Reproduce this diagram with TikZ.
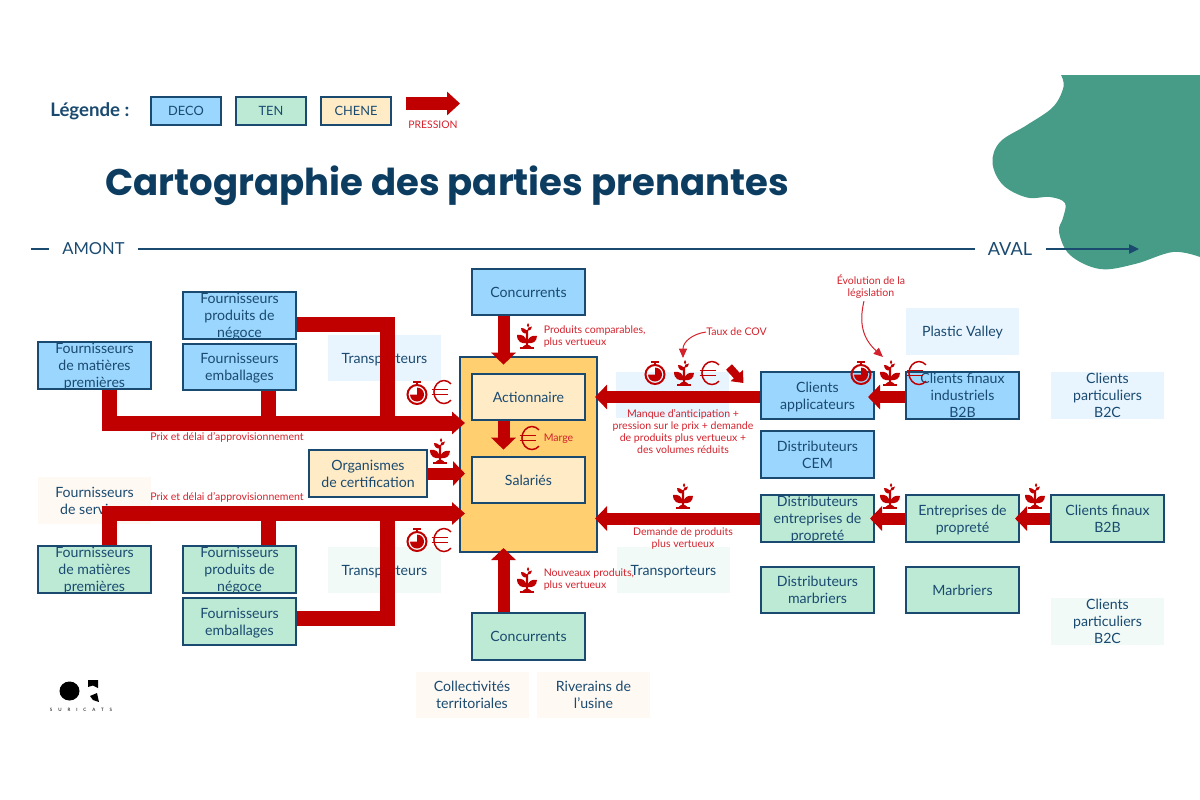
\documentclass[tikz,border=0pt]{standalone}
\usepackage{fontspec}
\setmainfont{Lato}
\newfontfamily\titrefont{Poppins}
\usetikzlibrary{arrows.meta, positioning}
\definecolor{encre}{HTML}{1A4A70}
\definecolor{encreTitre}{HTML}{0C3C60}
\definecolor{bleuDeco}{HTML}{9BD6FE}
\definecolor{vertTen}{HTML}{BCEAD5}
\definecolor{beigeChene}{HTML}{FFEBC6}
\definecolor{orangeCentre}{HTML}{FFCF70}
\definecolor{paleBleu}{HTML}{E8F5FF}
\definecolor{paleVert}{HTML}{F1FAF7}
\definecolor{paleBeige}{HTML}{FFF9F3}
\definecolor{rouge}{HTML}{C00000}
\definecolor{rougeTexte}{HTML}{D3222C}
\definecolor{sarcelle}{HTML}{469C87}
\tikzset{
	x=0.75pt, y=-0.75pt, % Une unite vaut un pixel de la reference
	>=stealth,
	boite/.style={minimum width=84.75pt, minimum height=35pt, inner sep=0pt, align=center, text=encre,
		font=\fontsize{10.6}{12.6}\selectfont}, % Taille commune des cases
	bas/.style={text depth=#1}, % Descend un peu le texte dans sa case
	deco/.style={boite, draw=encre, line width=1.5pt, fill=bleuDeco},
	ten/.style={boite, draw=encre, line width=1.5pt, fill=vertTen},
	chene/.style={boite, draw=encre, line width=1.5pt, fill=beigeChene},
	horsBleu/.style={boite, fill=paleBleu},
	horsVert/.style={boite, fill=paleVert},
	horsBeige/.style={boite, fill=paleBeige},
	legende/.style={minimum width=52pt, minimum height=21pt, font=\fontsize{9.6}{12}\selectfont},
	pression/.style={color=rouge, line width=9pt, -{Triangle[length=9pt,width=18pt]}},
	pressionLarge/.style={color=rouge, line width=11.25pt, -{Triangle[length=9.75pt,width=16.5pt]}},
	troncon/.style={color=rouge, line width=11.25pt},
	note/.style={inner sep=0pt, align=center, text=rougeTexte, font=\fontsize{7.9}{9}\selectfont},
	renvoi/.style={color=rougeTexte, line width=0.75pt, -{Triangle[length=7pt,width=6pt]}},
	axe/.style={color=encre, line width=1pt},
	plante/.pic={
		\fill[rouge] (-7,10.5) -- (7,10.5) -- (7,12.5) -- (-7,12.5) -- cycle;
		\fill[rouge] (-1.2,11) .. controls (-1.2,6) and (-1.2,0) .. (-1,-6) -- (1.2,-6) .. controls (1.2,0) and (1.2,6) .. (1.2,11) -- cycle;
		\fill[rouge] (-4.5,11) .. controls (-2,8) and (2,8) .. (4.5,11) -- cycle;
		\fill[rouge] (-0.5,7) .. controls (-5,8) and (-10,6) .. (-10,-1) .. controls (-5,-2) and (-0.5,0) .. (-0.5,7) -- cycle;
		\fill[rouge] (0.5,7) .. controls (5,8) and (10,6) .. (10,0) .. controls (5,-1) and (0.5,1) .. (0.5,7) -- cycle;
		\fill[rouge] (0,-2.5) .. controls (-3,-2) and (-6,-4) .. (-6,-8) .. controls (-2,-8) and (0,-6) .. (0,-2.5) -- cycle;
		\fill[rouge] (0,-5) .. controls (3,-5) and (5,-7) .. (5,-9.5) .. controls (2,-9.5) and (0,-8) .. (0,-5) -- cycle;
		\fill[rouge] (1,-8.5) .. controls (-0.5,-10) and (-0.5,-11.5) .. (1,-13) .. controls (2.5,-11.5) and (2.5,-10) .. (1,-8.5) -- cycle;
	},
	chrono/.pic={
		\draw[rouge, line width=1.5pt] (0,1.5) circle[radius=9.5];
		\fill[rouge] (0,1.5) -- (0,-5.5) arc[start angle=-90, end angle=180, radius=7] -- cycle;
		\draw[rouge, line width=1.5pt] (-4,-11.5) -- (4,-11.5) (0,-11.5) -- (0,-8);
	},
	euro/.pic={
		\draw[rouge, line width=1.1pt] (9,-8.1) arc[start angle=-45, end angle=-315, x radius=10, y radius=11.5];
		\draw[rouge, line width=1.1pt] (-10.5,-2.5) -- (6,-2.5) (-10.5,2.5) -- (6,2.5);
	}
}

\begin{document}
\begin{tikzpicture}
			\useasboundingbox (0,0) rectangle (1200,800);
			% tache du coin
			\fill[sarcelle] plot[smooth, tension=0.6] coordinates {(1061,75) (1063.5,87) (1053,107) (1027,125) (1000,142) (992.5,163) (1003,185) (1027,197.5) (1050,197) (1065,203) (1063,218) (1059,232) (1070,255) (1100,269) (1135,264) (1173,252) (1200,257)} -- (1200,75) -- cycle;

			% entete
			\node[anchor=west, inner sep=0pt, text=encre, font=\fontsize{14}{16}\selectfont\bfseries] (titreLegende) at (50,111) {Légende :};
			\node[deco, legende] (legDeco) at (186,110.5) {DECO};
			\node[ten, legende, right=10.25pt of legDeco] (legTen) {TEN};
			\node[chene, legende, right=10.25pt of legTen] (legChene) {CHENE};
			\node[note, font=\fontsize{7.8}{9}\selectfont] (legPression) at (433,125) {PRESSION};
			\coordinate (legDebut) at (406,103.5);
			\coordinate (legFin) at (460,103.5);
			\draw[color=rouge, line width=9.75pt, -{Triangle[length=9.75pt,width=17.25pt]}] (legDebut) -- (legFin);
			\node[anchor=west, inner sep=0pt, text=encreTitre, font=\titrefont\fontsize{27.8}{32}\selectfont\bfseries] (titre) at (105,186) {Cartographie des parties prenantes};

			% axe amont aval
			\coordinate (axeDebut) at (31,249);
			\coordinate (axeFin) at (1139,249);
			\node[inner sep=0pt, text=encre, font=\fontsize{12.4}{14}\selectfont] (amont) at (93.5,249) {AMONT};
			\node[inner sep=0pt, text=encre, font=\fontsize{13.6}{14}\selectfont] (aval) at (1010,249) {AVAL};
			\draw[axe] (axeDebut) -- ([xshift=-9.75pt]amont.west);
			\draw[axe] ([xshift=9.75pt]amont.east) -- ([xshift=-9.75pt]aval.west);
			\draw[axe, -{Triangle[length=7.5pt,width=7pt]}] ([xshift=10.5pt]aval.east) -- (axeFin);

			% cases hors pression
			\node[horsBleu, bas=-0.7pt] (transpHaut) at (384.5,358) {Transporteurs};
			\node[horsBleu] (transpDroit) at (672.5,395) {};
			\node[horsBleu, bas=-0.7pt] (plastic) at (962.5,331.5) {Plastic Valley};
			\node[horsBleu, bas=-2.25pt] (partHaut) at (1107.5,395.5) {Clients\\particuliers\\B2C};
			\node[horsBeige, bas=-1.5pt] (services) at (94.5,500.5) {Fournisseurs\\de services};
			\node[horsVert, bas=-0.7pt] (transpBas) at (384.5,570) {Transporteurs};
			\node[horsVert, bas=-0.7pt] (transpMilieu) at (673.5,570) {Transporteurs};
			\node[horsVert, bas=-1.5pt] (partBas) at (1107.5,621.5) {Clients\\particuliers\\B2C};
			\node[horsBeige] (collect) at (472,695) {Collectivités\\territoriales};
			\node[horsBeige] (riverains) at (593.5,695) {Riverains de\\l'usine};

			% centre
			\node[chene, fill=orangeCentre, minimum width=102.75pt, minimum height=146.25pt] (centre) at (528.5,454.5) {};
			\node[chene] (action) at (528.5,397) {Actionnaire};
			\node[chene] (salaries) at (528.5,480) {Salariés};
			\node[chene, minimum width=88.5pt] (organismes) at (368,473.5) {Organismes\\de certification};

			% amont
			\node[deco, bas=-3.75pt] (negHaut) at (239.5,315.5) {Fournisseurs\\produits de\\négoce};
			\node[deco, bas=-0.7pt] (embHaut) at (239.5,367) {Fournisseurs\\emballages};
			\node[deco, bas=-0.7pt] (matHaut) at (94.5,365.5) {Fournisseurs\\de matières\\premières};
			\node[deco] (concHaut) at (528.5,292) {Concurrents};
			\node[ten, bas=-0.7pt] (matBas) at (94.5,569.5) {Fournisseurs\\de matières\\premières};
			\node[ten, bas=-3.75pt] (negBas) at (239.5,569.5) {Fournisseurs\\produits de\\négoce};
			\node[ten, bas=-0.7pt] (embBas) at (239.5,621.5) {Fournisseurs\\emballages};
			\node[ten] (concBas) at (528.5,636.5) {Concurrents};

			% aval
			\node[deco, bas=-2.2pt] (applic) at (817.5,395.5) {Clients\\applicateurs};
			\node[deco, bas=-1.5pt] (cem) at (817.5,454.5) {Distributeurs\\CEM};
			\node[deco, bas=-2.25pt] (finauxInd) at (962.5,395.5) {Clients finaux\\industriels\\B2B};
			\node[ten, bas=-0.7pt] (distProp) at (817.5,518.5) {Distributeurs\\entreprises de\\propreté};
			\node[ten] (distMarb) at (817.5,590) {Distributeurs\\marbriers};
			\node[ten, bas=0pt] (entProp) at (962.5,518.5) {Entreprises de\\propreté};
			\node[ten] (marbriers) at (962.5,590) {Marbriers};
			\node[ten] (finauxB2B) at (1107.5,518.5) {Clients finaux\\B2B};

			% pressions
			\coordinate (jonctionHaut) at (387.5,423);
			\coordinate (jonctionBas) at (387.5,513.5);
			\draw[troncon] ([shift={(0,8.5)}]negHaut.east) -| (jonctionHaut);
			\draw[troncon] ([shift={(28.5,0)}]embHaut.south) -- ([shift={(28.5,0)}]embHaut.south |- jonctionHaut);
			\draw[pressionLarge] ([shift={(14.5,0)}]matHaut.south) |- ([shift={(6,-31.5)}]centre.west);
			\draw[troncon] ([shift={(0,-3)}]embBas.east) -| (jonctionBas);
			\draw[troncon] ([shift={(28.5,0)}]negBas.north) -- ([shift={(28.5,0)}]negBas.north |- jonctionBas);
			\draw[pressionLarge] ([shift={(14.5,0)}]matBas.north) |- ([shift={(6,59)}]centre.west);
			\draw	([shift={(-25,0)}]concHaut.south) edge[pression] ([shift={(-25,-8)}]action.north)
					([shift={(-25,0)}]action.south) edge[pression] ([shift={(-25,-6)}]salaries.north)
					([shift={(-25,0)}]concBas.north) edge[pression] ([shift={(-25,-5)}]centre.south)
					(organismes.east) edge[pression] ([shift={(6,19)}]centre.west)
					([shift={(0,1.5)}]applic.west) edge[pression] ([shift={(-3,-57.5)}]centre.east)
					([shift={(0,1.5)}]finauxInd.west) edge[pression] ([shift={(-7,1.5)}]applic.east)
					(distProp.west) edge[pression] ([shift={(-3,64)}]centre.east)
					(entProp.west) edge[pression] ([shift={(-5,0)}]distProp.east)
					(finauxB2B.west) edge[pression] ([shift={(-5,0)}]entProp.east)
					;
			\coordinate (flecheDebut) at (729,367);
			\coordinate (flecheFin) at (743.5,383);
			\draw[color=rouge, line width=6pt, -{Triangle[length=7.5pt,width=12pt]}] (flecheDebut) -- (flecheFin);

			% textes des pressions
			\node[note] (prixHaut) at (227,437) {Prix et délai d'approvisionnement};
			\node[note] (prixBas) at (227,497) {Prix et délai d'approvisionnement};
			\node[note, align=left, anchor=west] (comparables) at (543.5,337) {Produits comparables,\\plus vertueux};
			\node[note, align=left, anchor=west] (nouveaux) at (543.5,580) {Nouveaux produits,\\plus vertueux};
			\node[note, anchor=west] (marge) at (543.5,439) {Marge};
			\node[note] (manque) at (683,432) {Manque d'anticipation +\\pression sur le prix + demande\\de produits plus vertueux +\\des volumes réduits};
			\node[note] (demande) at (683,539) {Demande de produits\\plus vertueux};
			\node[note, anchor=west] (taux) at (706,332) {Taux de COV};
			\node[note] (legislation) at (871,287) {Évolution de la\\législation};
			\coordinate (tauxFin) at (683,358);
			\coordinate (legisFin) at (883,357);
			\draw[renvoi] (taux.west) .. controls (692,334) and (683,342) .. (tauxFin);
			\draw[renvoi] ([shift={(-7,2)}]legislation.south) .. controls (859,322) and (862,338) .. (legisFin);

			% pictogrammes
			\path	(417,393) pic {chrono} (442,392) pic {euro}
					(417,540) pic {chrono} (442,540) pic {euro}
					(527,336) pic {plante} (530,438) pic {euro}
					(440,451) pic {plante} (527,580) pic {plante}
					(655,373) pic {chrono} (684,373) pic {plante} (710,373) pic {euro}
					(861,373) pic {chrono} (890,373) pic {plante} (917,373) pic {euro}
					(683,496) pic {plante} (890,496) pic {plante} (1035,496) pic {plante}
					;

			% logo
			\fill[black] (69.5,691) ellipse[x radius=10, y radius=9.5];
			\fill[black] (88,680) -- (98,680) -- (98,688) -- (93,685.5) -- (88,687) -- cycle;
			\fill[black] (90,696) -- (97,693) -- (99,702) -- (93,700) -- cycle;
			\node[inner sep=0pt, font=\addfontfeature{LetterSpace=130}\fontsize{3.4}{4}\selectfont] (suricats) at (81,710) {SURICATS};
			\end{tikzpicture}
\end{document}
